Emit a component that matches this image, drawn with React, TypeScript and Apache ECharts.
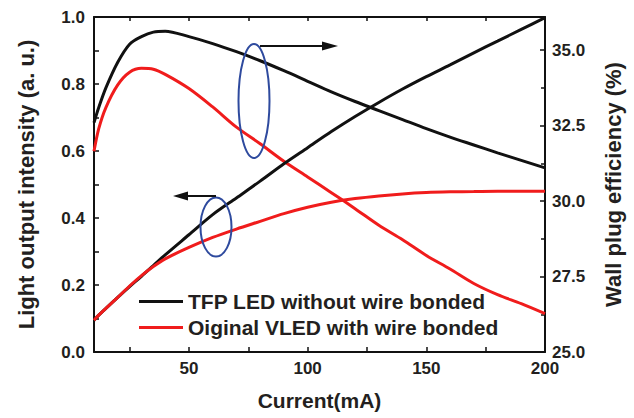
import React, { useEffect, useRef } from "react";
import * as echarts from "echarts";

const current = [10, 12, 15, 20, 25, 30, 35, 40, 50, 60, 70, 80, 90, 100, 110, 120, 130, 140, 150, 160, 170, 180, 190, 200];
const tfpLight = [0.095, 0.11, 0.13, 0.163, 0.195, 0.226, 0.258, 0.29, 0.35, 0.41, 0.46, 0.51, 0.562, 0.61, 0.658, 0.703, 0.745, 0.785, 0.822, 0.857, 0.893, 0.928, 0.963, 0.998];
const vledLight = [0.095, 0.11, 0.13, 0.163, 0.197, 0.228, 0.255, 0.278, 0.312, 0.342, 0.367, 0.39, 0.413, 0.432, 0.447, 0.458, 0.466, 0.472, 0.476, 0.478, 0.479, 0.48, 0.48, 0.48];
const tfpWpe = [32.6, 33.1, 33.75, 34.6, 35.2, 35.45, 35.6, 35.63, 35.45, 35.22, 34.95, 34.65, 34.32, 33.97, 33.62, 33.3, 33.0, 32.7, 32.4, 32.12, 31.86, 31.6, 31.35, 31.1];
const vledWpe = [31.65, 32.4, 33.1, 33.85, 34.27, 34.4, 34.37, 34.2, 33.73, 33.12, 32.45, 31.9, 31.32, 30.8, 30.28, 29.75, 29.2, 28.72, 28.2, 27.75, 27.27, 26.9, 26.6, 26.27];
const xLabelValues = [50, 100, 150, 200];
const xTickValues = [25, 50, 75, 100, 125, 150, 175, 200];
const nameTfp = "TFP LED without wire bonded";
const nameVled = "Oiginal VLED with wire bonded";

const FONT = "Liberation Sans, Arial, Helvetica, sans-serif";
const TXT = "#231f20";
const BLACK = "#111111";
const RED = "#f01c1c";
const BLUE = "#2e4a9e";

const pair = (ys: number[]) => current.map((x, i) => [x, ys[i]]);

export default function App() {
  const ref = useRef<HTMLDivElement>(null);
  useEffect(() => {
    if (!ref.current) return;
    const chart = echarts.init(ref.current, undefined, { renderer: "svg" });
    const axisLine = { show: true, lineStyle: { color: BLACK, width: 2 } };
    const labelStyle = { color: TXT, fontSize: 17, fontWeight: "bold" as const, fontFamily: FONT };
    const nameStyle = { color: TXT, fontSize: 22, fontWeight: "bold" as const, fontFamily: FONT };
    const line = (name: string, data: number[], color: string, yAxisIndex: number) => ({
      type: "line",
      name,
      data: pair(data),
      yAxisIndex,
      symbol: "none",
      smooth: 0.3,
      lineStyle: { color, width: 3 },
      itemStyle: { color },
      z: 3,
    });
    chart.setOption({
      animation: false,
      grid: { left: 94, right: 89, top: 17, bottom: 66 },
      legend: {
        orient: "vertical",
        left: 139,
        top: 291,
        padding: 0,
        icon: "rect",
        itemWidth: 44,
        itemHeight: 3,
        itemGap: 5,
        data: [nameTfp, nameVled],
        textStyle: { color: TXT, fontSize: 21, fontWeight: "bold", fontFamily: FONT, lineHeight: 21 },
      },
      xAxis: [
        {
          type: "value",
          min: 10,
          max: 200,
          position: "bottom",
          name: "Current(mA)",
          nameLocation: "middle",
          nameGap: 38,
          nameTextStyle: { ...nameStyle, fontSize: 21 },
          axisLine,
          axisTick: { show: true, inside: true, length: 5, customValues: xTickValues, lineStyle: { color: BLACK, width: 1.5 } },
          axisLabel: { ...labelStyle, margin: 8, customValues: xLabelValues },
          splitLine: { show: false },
        },
        {
          type: "value",
          min: 10,
          max: 200,
          position: "top",
          axisLine,
          axisTick: { show: true, inside: true, length: 4, customValues: xTickValues, lineStyle: { color: BLACK, width: 1.5 } },
          axisLabel: { show: false },
          splitLine: { show: false },
        },
      ],
      yAxis: [
        {
          type: "value",
          min: 0,
          max: 1,
          interval: 0.2,
          position: "left",
          name: "Light output intensity (a. u.)",
          nameLocation: "middle",
          nameRotate: 90,
          nameGap: 57,
          nameTextStyle: nameStyle,
          axisLine,
          axisTick: { show: true, inside: true, length: 5, lineStyle: { color: BLACK, width: 1.5 } },
          minorTick: { show: true, splitNumber: 2, length: 5, lineStyle: { color: BLACK, width: 1.5 } },
          axisLabel: { ...labelStyle, margin: 9, formatter: (v: number) => v.toFixed(1) },
          splitLine: { show: false },
          minorSplitLine: { show: false },
        },
        {
          type: "value",
          min: 25,
          max: 36.1,
          interval: 2.5,
          position: "right",
          name: "Wall plug efficiency (%)",
          nameLocation: "middle",
          nameRotate: 90,
          nameGap: 57,
          nameTextStyle: nameStyle,
          axisLine,
          axisTick: { show: true, inside: true, length: 5, lineStyle: { color: BLACK, width: 1.5 } },
          minorTick: { show: true, splitNumber: 2, length: 4, lineStyle: { color: BLACK, width: 1.5 } },
          axisLabel: { ...labelStyle, margin: 7, showMaxLabel: false, formatter: (v: number) => v.toFixed(1) },
          splitLine: { show: false },
          minorSplitLine: { show: false },
        },
      ],
      series: [
        line(nameTfp, tfpWpe, BLACK, 1),
        line(nameVled, vledWpe, RED, 1),
        line(nameTfp, tfpLight, BLACK, 0),
        line(nameVled, vledLight, RED, 0),
      ],
      graphic: [
        { type: "ellipse", shape: { cx: 254, cy: 101, rx: 15.5, ry: 57 }, style: { fill: "none", stroke: BLUE, lineWidth: 2 }, z: 10 },
        { type: "line", shape: { x1: 260, y1: 46, x2: 326, y2: 46 }, style: { stroke: BLACK, lineWidth: 2 }, z: 10 },
        { type: "polygon", shape: { points: [[322, 41.5], [338, 46], [322, 50.5]] }, style: { fill: BLACK }, z: 10 },
        { type: "ellipse", shape: { cx: 216, cy: 227, rx: 15.5, ry: 29.5 }, style: { fill: "none", stroke: BLUE, lineWidth: 2 }, z: 10 },
        { type: "line", shape: { x1: 216, y1: 196, x2: 185, y2: 196 }, style: { stroke: BLACK, lineWidth: 2 }, z: 10 },
        { type: "polygon", shape: { points: [[188, 191.5], [173, 196], [188, 200.5]] }, style: { fill: BLACK }, z: 10 },
      ],
    });
    return () => chart.dispose();
  }, []);
  return (
    <div
      ref={ref}
      style={{ position: "fixed", left: 0, top: 0, width: 634, height: 418, background: "#fff" }}
    />
  );
}
